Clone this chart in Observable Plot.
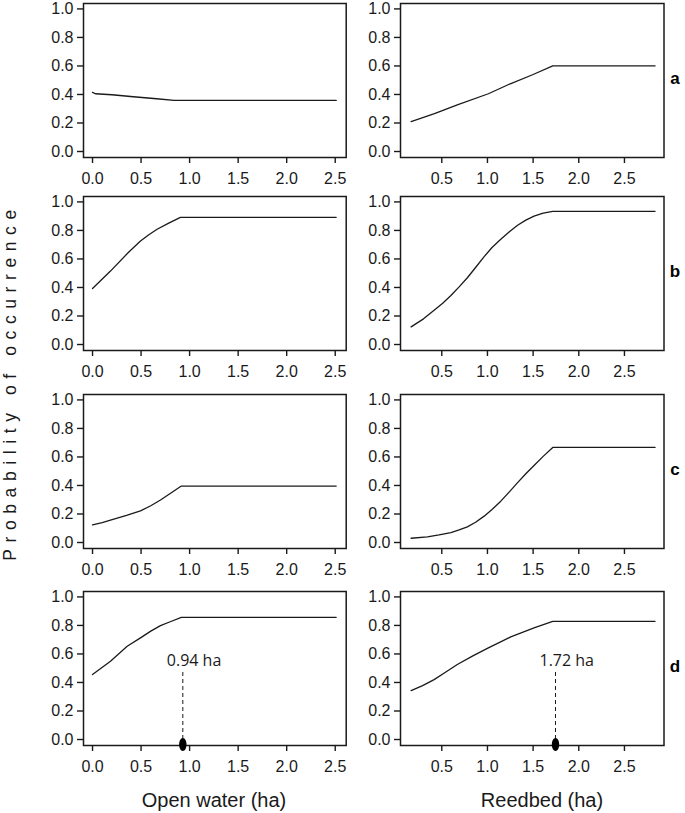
<!DOCTYPE html>
<html><head><meta charset="utf-8">
<script src="https://cdn.jsdelivr.net/npm/d3@7"></script>
<script src="https://cdn.jsdelivr.net/npm/@observablehq/plot@0.6"></script>
<style>
body{margin:0;background:#fff;}
#wrap{position:relative;width:685px;height:813px;font-family:"Liberation Sans",Arial,sans-serif;color:#1a1a1a;overflow:hidden;}
.cell{position:absolute;}
#overlay{position:absolute;left:0;top:0;pointer-events:none;}
</style></head><body><div id="wrap"></div>
<script>
// ---- data ----
const panelLetters = ["a", "b", "c", "d"];
const openWaterTicks = [0, 0.5, 1, 1.5, 2, 2.5];
const reedbedTicks = [0.5, 1, 1.5, 2, 2.5];
const probTicks = [0, 0.2, 0.4, 0.6, 0.8, 1.0];

const openWaterA = [[0,0.415],[0.03,0.405],[0.2,0.398],[0.42,0.384],[0.66,0.37],[0.84,0.358],[2.51,0.358]];
const openWaterB = [[0,0.393],[0.185,0.515],[0.374,0.649],[0.494,0.726],[0.58,0.77],[0.665,0.808],[0.78,0.85],[0.905,0.892],[2.51,0.892]];
const openWaterC = [[0,0.124],[0.1,0.14],[0.185,0.157],[0.35,0.19],[0.494,0.222],[0.60,0.258],[0.70,0.298],[0.915,0.396],[2.51,0.396]];
const openWaterD = [[0,0.456],[0.185,0.549],[0.357,0.654],[0.494,0.713],[0.60,0.76],[0.70,0.799],[0.80,0.826],[0.915,0.857],[2.51,0.857]];

const reedbedA = [[0.164,0.21],[0.42,0.265],[0.67,0.327],[1.01,0.405],[1.25,0.475],[1.5,0.54],[1.715,0.6],[2.835,0.6]];
const reedbedB = [[0.164,0.124],[0.30,0.18],[0.416,0.241],[0.51,0.29],[0.6,0.344],[0.69,0.404],[0.78,0.468],[0.87,0.54],[0.964,0.616],[1.05,0.68],[1.146,0.738],[1.24,0.79],[1.33,0.836],[1.42,0.872],[1.51,0.9],[1.61,0.922],[1.715,0.934],[2.835,0.934]];
const reedbedC = [[0.164,0.03],[0.343,0.04],[0.47,0.053],[0.6,0.07],[0.69,0.088],[0.78,0.11],[0.87,0.142],[0.964,0.185],[1.05,0.232],[1.146,0.29],[1.24,0.355],[1.33,0.42],[1.42,0.482],[1.51,0.54],[1.61,0.604],[1.715,0.667],[2.835,0.667]];
const reedbedD = [[0.164,0.343],[0.29,0.378],[0.416,0.42],[0.54,0.472],[0.67,0.526],[0.84,0.587],[1.01,0.643],[1.255,0.72],[1.51,0.783],[1.715,0.829],[2.835,0.829]];

const cutoffX = [0.93, 1.745];
const cutoffLabel = ["0.94 ha", "1.72 ha"];
const cutoffTop = 0.49;

const xTitles = ["Open water (ha)", "Reedbed (ha)"];
const yTitle = "Probability of occurrence";

// ---- layout ----
const FONT = "Liberation Sans, Arial, sans-serif";
const INK = "#1a1a1a";
const frameTops = [3, 196, 393.5, 591];
const frameH = 154, mTop = 3, mBottom = 31;
const yDomain = [-0.042, 1.038];
const cols = [
  {left: 0, width: 350, mLeft: 83, mRight: 4.3, domain: [-0.093, 2.613], ticks: openWaterTicks,
   data: [openWaterA, openWaterB, openWaterC, openWaterD]},
  {left: 350, width: 335, mLeft: 50, mRight: 21.5, domain: [0.048, 2.933], ticks: reedbedTicks,
   data: [reedbedA, reedbedB, reedbedC, reedbedD]}
];

const ellipse = {
  draw(ctx) {
    const rx = 3.7, ry = 6.5, k = 0.5523;
    ctx.moveTo(rx, 0);
    ctx.bezierCurveTo(rx, ry * k, rx * k, ry, 0, ry);
    ctx.bezierCurveTo(-rx * k, ry, -rx, ry * k, -rx, 0);
    ctx.bezierCurveTo(-rx, -ry * k, -rx * k, -ry, 0, -ry);
    ctx.bezierCurveTo(rx * k, -ry, rx, -ry * k, rx, 0);
    ctx.closePath();
  }
};

const wrap = document.getElementById("wrap");

cols.forEach((col, ci) => {
  panelLetters.forEach((letter, ri) => {
    const marks = [
      Plot.frame({stroke: INK, strokeWidth: 1.5}),
      Plot.axisY({ticks: probTicks, tickFormat: d3.format(".1f"), tickSize: 6, tickPadding: 4,
                  fontSize: 16, strokeWidth: 1.4, label: null}),
      Plot.axisX({ticks: col.ticks, tickFormat: d3.format(".1f"), tickSize: 6, tickPadding: 9,
                  fontSize: 16, strokeWidth: 1.4, label: null}),
      Plot.line(col.data[ri], {x: d => d[0], y: d => d[1], stroke: INK, strokeWidth: 1.3})
    ];
    if (letter === "d") {
      marks.push(
        Plot.ruleX([cutoffX[ci]], {x: d => d, y1: () => 0, y2: () => cutoffTop, stroke: INK,
                   strokeWidth: 1, strokeDasharray: "4,3"}),
        Plot.dot([cutoffX[ci]], {x: d => d, y: () => 0, symbol: ellipse, fill: "#000", stroke: "none", dy: 5}),
        Plot.text([cutoffLabel[ci]], {x: () => cutoffX[ci], y: () => cutoffTop, text: d => d,
                   textAnchor: "start", lineAnchor: "bottom", dx: -16, dy: -4,
                   fontFamily: "Open Sans", fontSize: 16, fill: INK})
      );
    }
    if (ci === 1) {
      marks.push(Plot.text([letter], {frameAnchor: "right", text: d => d, dx: 11, dy: 3,
                 textAnchor: "middle", lineAnchor: "bottom", fontWeight: "bold", fontSize: 17, fill: "#000"}));
    }
    const chart = Plot.plot({
      width: col.width,
      height: frameH + mTop + mBottom,
      marginLeft: col.mLeft, marginRight: col.mRight, marginTop: mTop, marginBottom: mBottom,
      x: {domain: col.domain},
      y: {domain: yDomain},
      style: {fontFamily: FONT, fontSize: "16px", background: "transparent", color: INK, overflow: "visible"},
      marks
    });
    const div = document.createElement("div");
    div.className = "cell";
    div.style.left = col.left + "px";
    div.style.top = (frameTops[ri] - mTop) + "px";
    div.appendChild(chart);
    wrap.appendChild(div);
  });
});

// titles overlay
const ov = d3.select(wrap).append("svg").attr("id", "overlay").attr("width", 685).attr("height", 813)
  .style("font-family", FONT).style("fill", INK);
ov.append("text").attr("transform", "translate(16,382) rotate(-90)").attr("text-anchor", "middle")
  .style("font-size", "17.5px").style("letter-spacing", "6.6px").text(yTitle);
ov.append("text").attr("x", 214).attr("y", 807).attr("text-anchor", "middle")
  .style("font-size", "20px").text(xTitles[0]);
ov.append("text").attr("x", 542).attr("y", 807).attr("text-anchor", "middle")
  .style("font-size", "20px").text(xTitles[1]);
</script></body></html>
